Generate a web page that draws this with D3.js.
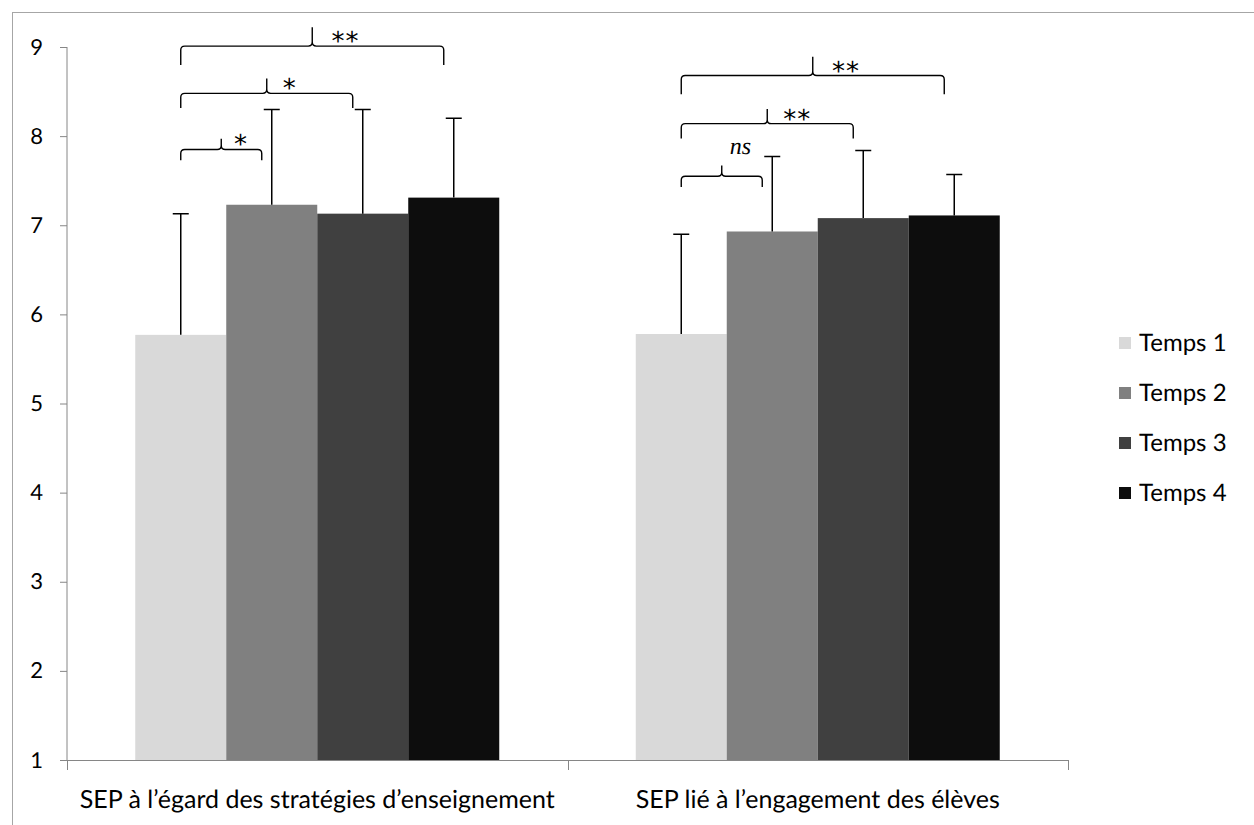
<!DOCTYPE html>
<html>
<head>
<meta charset="utf-8">
<script src="https://cdn.jsdelivr.net/npm/d3@7"></script>
<style>
  html, body { margin: 0; padding: 0; background: #fff; }
  svg { display: block; }
  text { text-rendering: geometricPrecision; }
</style>
</head>
<body>
<svg id="chart" width="1254" height="825"></svg>
<script>
// Categories, series and values
const categories = ["SEP à l’égard des stratégies d’enseignement", "SEP lié à l’engagement des élèves"];
const seriesNames = ["Temps 1", "Temps 2", "Temps 3", "Temps 4"];
const meansStrategies = [5.77, 7.23, 7.13, 7.31];
const meansEngagement = [5.78, 6.93, 7.08, 7.11];
const sdStrategies = [1.36, 1.07, 1.17, 0.89];
const sdEngagement = [1.12, 0.84, 0.76, 0.46];
const yTicks = [1, 2, 3, 4, 5, 6, 7, 8, 9];
const seriesColors = ["#d9d9d9", "#808080", "#404040", "#0d0d0d"];

// Pairwise comparisons: category index, first and second time point, bracket level (scale units), label
const comparisons = [
  { cat: 0, from: 0, to: 1, level: 7.85, label: "*" },
  { cat: 0, from: 0, to: 2, level: 8.48, label: "*" },
  { cat: 0, from: 0, to: 3, level: 9.01, label: "**" },
  { cat: 1, from: 0, to: 1, level: 7.55, label: "ns" },
  { cat: 1, from: 0, to: 2, level: 8.14, label: "**" },
  { cat: 1, from: 0, to: 3, level: 8.68, label: "**" }
];

const rows = categories.map((c, i) => ({
  category: c,
  values: seriesNames.map((s, j) => ({
    series: s,
    idx: j,
    mean: (i === 0 ? meansStrategies : meansEngagement)[j],
    sd: (i === 0 ? sdStrategies : sdEngagement)[j]
  }))
}));

const svg = d3.select("#chart");
const W = 1254, H = 825;
const plot = { left: 67, right: 1068, top: 47, bottom: 760 };
const font = "Lato, 'Open Sans', sans-serif";
const axisColor = "#868686";

// Outer chart frame
svg.append("rect")
  .attr("x", 12.5).attr("y", 12.5)
  .attr("width", W).attr("height", H)
  .attr("fill", "none").attr("stroke", "#a6a6a6").attr("stroke-width", 1);

const y = d3.scaleLinear().domain([1, 9]).range([plot.bottom, plot.top]);
const x0 = d3.scaleBand().domain(categories).range([plot.left, plot.right]).padding(0);
const x1 = d3.scaleBand().domain(seriesNames).range([0, x0.bandwidth()])
  .paddingInner(0).paddingOuter(0.75);

// Y axis
const yAxis = svg.append("g")
  .attr("transform", `translate(${plot.left},0)`)
  .call(d3.axisLeft(y).tickValues(yTicks).tickSize(7).tickPadding(17).tickFormat(d3.format("d")));
yAxis.select(".domain").attr("stroke", axisColor).attr("d", `M0,${plot.top}V${plot.bottom}`);
yAxis.selectAll(".tick line").attr("stroke", axisColor);
yAxis.selectAll(".tick text")
  .attr("font-family", font).attr("font-size", 22).attr("fill", "#000");

// Bars
const groups = svg.append("g").selectAll("g.cat")
  .data(rows).join("g")
  .attr("class", "cat")
  .attr("transform", d => `translate(${x0(d.category)},0)`);

groups.selectAll("rect")
  .data(d => d.values).join("rect")
  .attr("x", d => x1(d.series))
  .attr("y", d => y(d.mean))
  .attr("width", x1.bandwidth())
  .attr("height", d => y(1) - y(d.mean))
  .attr("fill", (d, j) => seriesColors[j]);

// Upper error bars
const capHalf = 8;
groups.selectAll("path.err")
  .data(d => d.values).join("path")
  .attr("class", "err")
  .attr("d", d => {
    const cx = x1(d.series) + x1.bandwidth() / 2;
    const yt = y(d.mean + d.sd);
    return `M${cx},${y(d.mean)}V${yt}M${cx - capHalf},${yt}H${cx + capHalf}`;
  })
  .attr("fill", "none").attr("stroke", "#000").attr("stroke-width", 1.5);

// X axis with boundary ticks
const xAxis = svg.append("g");
const bounds = categories.map(c => x0(c)).concat([x0.range()[1]]);
xAxis.append("path")
  .attr("d", `M${plot.left},${plot.bottom + 0.5}H${plot.right}`)
  .attr("stroke", axisColor).attr("fill", "none");
xAxis.selectAll("line").data(bounds).join("line")
  .attr("x1", d => Math.round(d) + 0.5).attr("x2", d => Math.round(d) + 0.5)
  .attr("y1", plot.bottom).attr("y2", plot.bottom + 10)
  .attr("stroke", axisColor);
xAxis.selectAll("text").data(categories).join("text")
  .attr("x", d => x0(d) + x0.bandwidth() / 2)
  .attr("y", 808)
  .attr("text-anchor", "middle")
  .attr("font-family", font).attr("font-size", 25).attr("fill", "#000")
  .text(d => d);

// Comparison braces
function braceX(cat, idx) {
  return x0(categories[cat]) + x1(seriesNames[idx]) + x1.bandwidth() / 2;
}
const inset = 10, r = 4;
const braces = svg.append("g");
comparisons.forEach(c => {
  const xa = braceX(c.cat, c.from);
  const xb = braceX(c.cat, c.to) - inset;
  const yh = y(c.level);
  const w = xb - xa;
  const h = 7 + w * 0.045;
  const xm = (xa + xb) / 2;
  const d = [
    `M${xa},${yh + h}`,
    `V${yh + r}`,
    `Q${xa},${yh} ${xa + r},${yh}`,
    `H${xm - r}`,
    `Q${xm},${yh} ${xm},${yh - r}`,
    `V${yh - h}`,
    `M${xm},${yh - r}`,
    `Q${xm},${yh} ${xm + r},${yh}`,
    `H${xb - r}`,
    `Q${xb},${yh} ${xb},${yh + r}`,
    `V${yh + h}`
  ].join("");
  braces.append("path").attr("d", d)
    .attr("fill", "none").attr("stroke", "#000").attr("stroke-width", 1.4);

  if (c.label === "ns") {
    braces.append("text")
      .attr("x", xm + 8).attr("y", yh - h - 12)
      .attr("font-family", "'Liberation Serif', 'Times New Roman', serif")
      .attr("font-style", "italic").attr("font-size", 24).attr("fill", "#000")
      .text(c.label);
  } else {
    braces.append("text")
      .attr("x", xm + 10 + w * 0.035).attr("y", yh + 4)
      .attr("font-family", "'DejaVu Sans', sans-serif")
      .attr("font-size", 26).attr("letter-spacing", 1).attr("fill", "#000")
      .text(c.label);
  }
});

// Legend
const legend = svg.append("g");
seriesNames.forEach((s, i) => {
  const cy = 343 + i * 50;
  legend.append("rect")
    .attr("x", 1119).attr("y", cy - 6).attr("width", 12).attr("height", 12)
    .attr("fill", seriesColors[i]);
  legend.append("text")
    .attr("x", 1139).attr("y", cy).attr("dy", "0.35em")
    .attr("font-family", font).attr("font-size", 24).attr("fill", "#000")
    .text(s);
});
</script>
</body>
</html>
